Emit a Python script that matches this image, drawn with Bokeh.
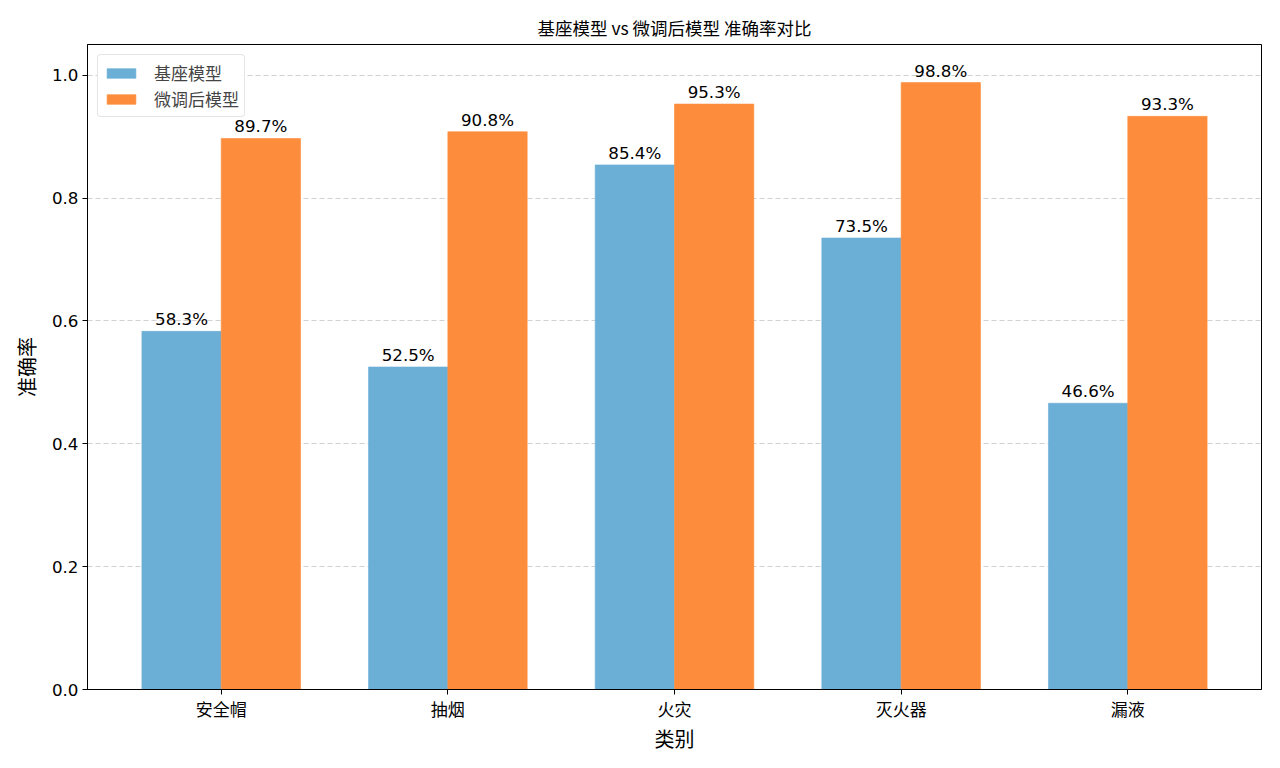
from bokeh.plotting import figure
from bokeh.models import ColumnDataSource, FixedTicker, Legend, LegendItem, LabelSet, Range1d
from bokeh.embed import file_html
from bokeh.resources import INLINE
from bokeh.core.properties import value

categories = ["安全帽", "抽烟", "火灾", "灭火器", "漏液"]
base_vals = [0.583, 0.525, 0.854, 0.735, 0.466]
ft_vals = [0.897, 0.908, 0.953, 0.988, 0.933]
y_ticks = [0.0, 0.2, 0.4, 0.6, 0.8, 1.0]

BLUE = "#6baed6"
ORANGE = "#fd8d3c"
CJK = "Noto Sans CJK SC"
NUM = "DejaVu Sans"
w = 0.35

idx = list(range(len(categories)))
src_b = ColumnDataSource(dict(x=[i - w / 2 for i in idx], top=base_vals,
                              lab=[f"{v*100:.1f}%" for v in base_vals]))
src_f = ColumnDataSource(dict(x=[i + w / 2 for i in idx], top=ft_vals,
                              lab=[f"{v*100:.1f}%" for v in ft_vals]))

p = figure(width=1272, height=760, output_backend="svg", toolbar_location=None,
           x_range=Range1d(-0.59, len(categories) - 1 + 0.59), y_range=Range1d(0, 1.05),
           min_border_left=87, min_border_top=44, min_border_right=11, min_border_bottom=71)

p.title.text = "基座模型 vs 微调后模型 准确率对比"
p.title.align = "center"
p.title.text_font = CJK
p.title.text_font_size = "17.5px"
p.title.text_font_style = "normal"
p.title.text_color = "black"
p.title.standoff = 9

rb = p.vbar(x="x", top="top", width=w, source=src_b, fill_color=BLUE,
            line_color=BLUE, line_width=0.6)
rf = p.vbar(x="x", top="top", width=w, source=src_f, fill_color=ORANGE,
            line_color=ORANGE, line_width=0.6)

for s in (src_b, src_f):
    p.add_layout(LabelSet(x="x", y="top", text="lab", source=s, text_align="center",
                          text_baseline="bottom", y_offset=2, text_font=value(NUM),
                          text_font_size="16.7px", text_color="black"))

p.xaxis.ticker = FixedTicker(ticks=idx)
p.xaxis.major_label_overrides = {i: c for i, c in enumerate(categories)}
p.xaxis.major_label_text_font = CJK
p.xaxis.major_label_text_font_size = "17px"
p.xaxis.axis_label = "类别"
p.xaxis.axis_label_text_font = CJK
p.xaxis.axis_label_text_font_size = "20px"
p.xaxis.axis_label_text_font_style = "normal"
p.xaxis.axis_label_standoff = 0
p.xaxis.minor_tick_line_color = None

p.yaxis.ticker = FixedTicker(ticks=y_ticks)
p.yaxis.major_label_overrides = {t: f"{t:.1f}" for t in y_ticks}
p.yaxis.major_label_text_font = NUM
p.yaxis.major_label_text_font_size = "16.7px"
p.yaxis.axis_label = "准确率"
p.yaxis.axis_label_text_font = CJK
p.yaxis.axis_label_text_font_size = "20px"
p.yaxis.axis_label_text_font_style = "normal"
p.yaxis.axis_label_standoff = 8
p.yaxis.minor_tick_line_color = None

for ax in (p.xaxis, p.yaxis):
    ax.axis_line_color = "black"
    ax.major_tick_line_color = "black"
    ax.major_tick_in = 0
    ax.major_tick_out = 5
    ax.major_label_text_color = "black"
    ax.axis_label_text_color = "black"
p.yaxis.major_label_standoff = 4
p.xaxis.major_label_standoff = 1

p.xgrid.grid_line_color = None
p.ygrid.grid_line_color = "#cccccc"
p.ygrid.grid_line_dash = "5 3"
p.ygrid.grid_line_alpha = 0.9
p.outline_line_color = "black"
p.outline_line_width = 1
p.background_fill_color = "white"

legend = Legend(items=[LegendItem(label="基座模型", renderers=[rb]),
                       LegendItem(label="微调后模型", renderers=[rf])],
                location="top_left")
legend.label_text_font = CJK
legend.label_text_font_size = "17px"
legend.glyph_width = 36
legend.glyph_height = 12
legend.label_height = 20
legend.spacing = 1
legend.padding = 5
legend.margin = 10
legend.border_line_color = "#cccccc"
legend.border_radius = 4
legend.label_standoff = 15
p.add_layout(legend)

open("out.html", "w").write(file_html(p, INLINE))
